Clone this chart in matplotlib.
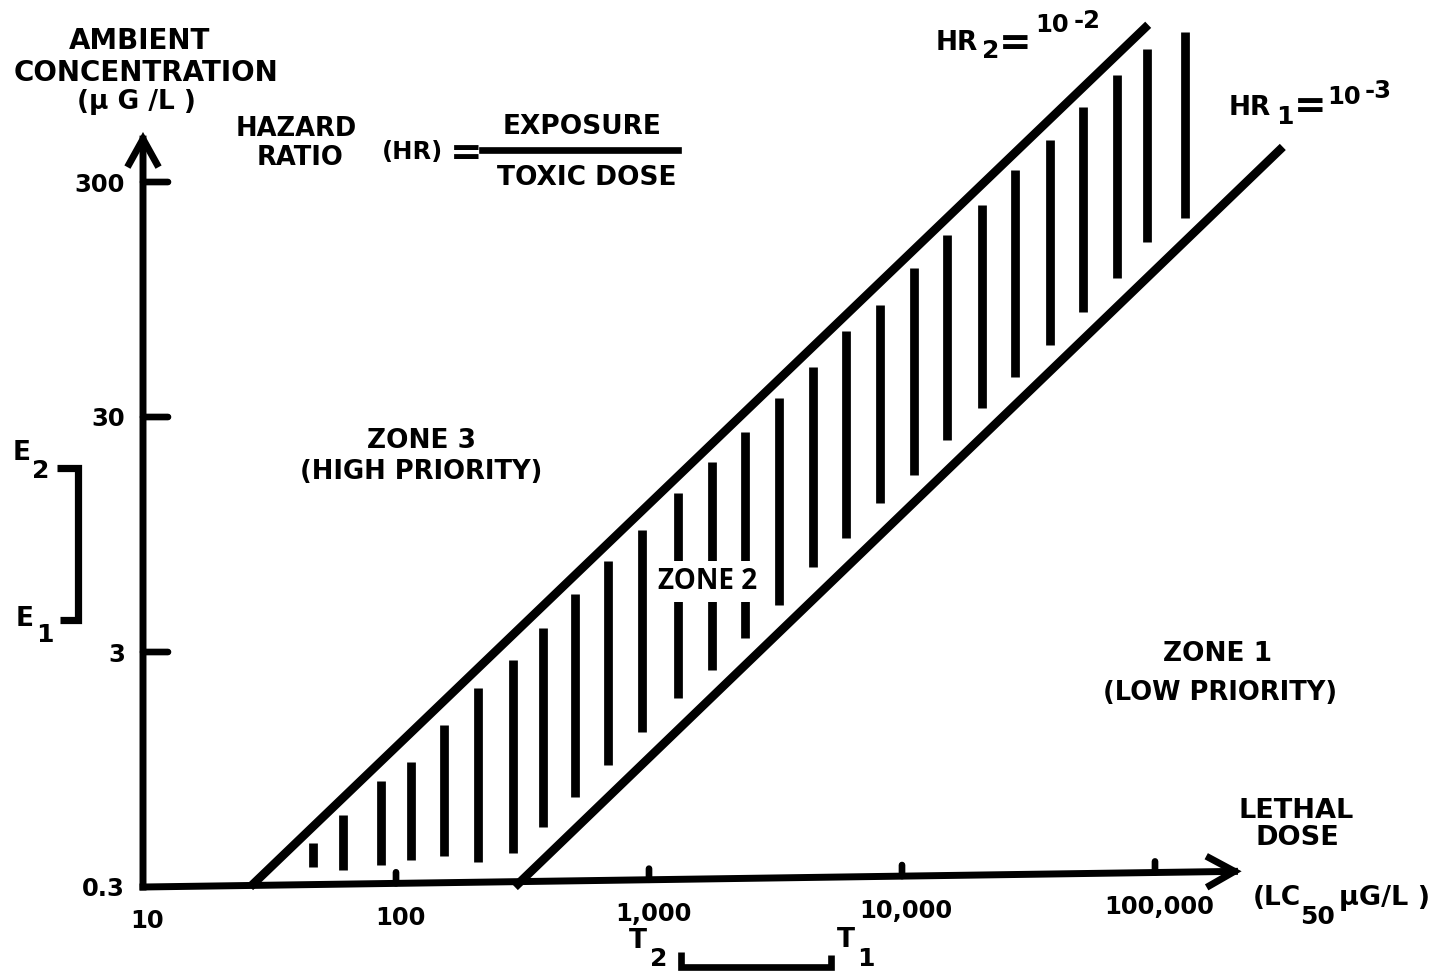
import numpy as np
import matplotlib
matplotlib.use("Agg")
import matplotlib.pyplot as plt
from matplotlib.lines import Line2D

W, H, DPI = 1445, 975, 100

# ---------------- data ----------------
# axes: lethal dose LC50 (ug/L) vs ambient concentration (ug/L), both log
x_origin, y_origin = 10, 0.3
x_origin_label = "10"
y_origin_label = "0.3"
x_ticks = [100, 1000, 10000, 100000]
x_tick_labels = ["100", "1,000", "10,000", "100,000"]
y_ticks = [3, 30, 300]
y_tick_labels = ["3", "30", "300"]
x_axis_tip = (2.2e5, 0.35)
y_axis_tip = 490

# hazard-ratio boundary lines
hr2_lc50 = [26.5, 94000]
hr2_conc = [0.3, 1400]
hr1_lc50 = [295, 320000]
hr1_conc = [0.3, 423]

# hatching strokes filling zone 2
hatch_lc50 = [47, 62, 87, 115, 155, 210, 290, 380, 510, 690, 940, 1300, 1770,
              2400, 3270, 4450, 6000, 8200, 11200, 15000, 20700, 28000, 38500,
              52000, 71000, 93000, 131000]
hatch_top = [0.46, 0.61, 0.85, 1.02, 1.47, 2.11, 2.77, 3.80, 5.3, 7.3, 9.9, 14.3,
             19.3, 25.9, 36.1, 49, 70, 90, 129, 178, 239, 337, 453, 625, 855,
             1100, 1300]
hatch_bottom = [0.365, 0.354, 0.372, 0.391, 0.406, 0.383, 0.419, 0.54, 0.725,
                0.99, 1.37, 1.91, 2.51, 3.44, 4.75, 6.9, 9.2, 12.9, 17.0, 23.9,
                32.8, 44.4, 60.7, 84, 117, 167, 211]

# exposure range (E1, E2) and toxicity range (T2, T1)
exposure_band = [4.1, 18.2]
toxicity_band = [1340, 5240]

# ---------------- figure ----------------
plt.rcParams['font.family'] = ['DejaVu Sans']
fig = plt.figure(figsize=(W / DPI, H / DPI), dpi=DPI)
ax = fig.add_axes([0, 0, 1, 1])
ax.set_xscale('log')
ax.set_yscale('log')
ax.set_xlim(10 ** (1 - 143 / 253), 10 ** (1 + (W - 143) / 253))
ax.set_ylim(10 ** (np.log10(0.3) - (H - 887) / 235), 10 ** (np.log10(0.3) + 887 / 235))
ax.axis('off')

K = 'black'


def x_axis_level(x):
    """Height of the (slightly rising) horizontal axis at a given LC50."""
    t = (np.log10(x) - np.log10(x_origin)) / (np.log10(x_axis_tip[0]) - np.log10(x_origin))
    return 10 ** (np.log10(y_origin) + t * (np.log10(x_axis_tip[1]) - np.log10(y_origin)))


def label(xp, yp, s, size, ha='center', family=None, **kw):
    kw.setdefault('fontweight', 'bold')
    if family is not None:
        kw['family'] = family
    return fig.text(xp / W, 1 - yp / H, s, ha=ha, va='center_baseline',
                    fontsize=size, color=K, **kw)


# axes with arrow heads
arrow_kw = dict(arrowstyle='->,head_length=1.8,head_width=1.0', lw=5, color=K,
                shrinkA=0, shrinkB=0, mutation_scale=10,
                capstyle='projecting', joinstyle='miter')
ax.annotate('', xy=(x_origin, y_axis_tip), xytext=(x_origin, y_origin), arrowprops=arrow_kw)
ax.annotate('', xy=x_axis_tip, xytext=(x_origin, y_origin), arrowprops=arrow_kw)

# tick marks
tick_kw = dict(arrowstyle='-', lw=4.8, color=K, shrinkA=0, shrinkB=0)
for v in y_ticks:
    ax.annotate('', xy=(x_origin, v), xytext=(18, 0), textcoords='offset points',
                arrowprops=tick_kw)
for v in x_ticks:
    ax.annotate('', xy=(v, x_axis_level(v)), xytext=(0, 8), textcoords='offset points',
                arrowprops=tick_kw)

# tick labels
for v, s in zip([y_origin] + y_ticks, [y_origin_label] + y_tick_labels):
    ax.annotate(s, xy=(x_origin, v), xytext=(-13, 0), textcoords='offset points',
                ha='right', va='center_baseline', fontsize=17.5, fontweight='bold')
for v, s in zip([x_origin] + x_ticks, [x_origin_label] + x_tick_labels):
    ax.annotate(s, xy=(v, x_axis_level(v)), xytext=(3, -23), textcoords='offset points',
                ha='center', va='center_baseline', fontsize=17.5, fontweight='bold')

# hazard ratio lines
ax.plot(hr2_lc50, hr2_conc, color=K, lw=6.2, solid_capstyle='butt')
ax.plot(hr1_lc50, hr1_conc, color=K, lw=6.2, solid_capstyle='butt')

# zone 2 hatching
ax.vlines(hatch_lc50, hatch_bottom, hatch_top, color=K, lw=6.3)

# exposure bracket on the concentration axis
ax.plot([57 / W, 78 / W, 78 / W, 60 / W],
        [exposure_band[1], exposure_band[1], exposure_band[0], exposure_band[0]],
        transform=ax.get_yaxis_transform(), color=K, lw=5.2,
        solid_joinstyle='miter', solid_capstyle='butt')
# toxicity bracket under the dose axis
ax.plot([toxicity_band[0], toxicity_band[0], toxicity_band[1], toxicity_band[1]],
        [1 - 952 / H, 1 - 967 / H, 1 - 967 / H, 1 - 955 / H],
        transform=ax.get_xaxis_transform(), color=K, lw=4.8,
        solid_joinstyle='miter', solid_capstyle='butt')

# ---------------- text ----------------
label(140, 38, "AMBIENT", 20)
label(146, 70, "CONCENTRATION", 20)
label(136, 99, "(µ G /L )", 19)

label(296, 126, "HAZARD", 18.5)
label(300, 155, "RATIO", 18.5)
label(412, 150, "(HR)", 17.5)
label(466, 150, "=", 28)
fig.add_artist(Line2D([482 / W, 678 / W], [1 - 150 / H, 1 - 150 / H], color=K, lw=4.8))
label(582, 124, "EXPOSURE", 19)
label(587, 175, "TOXIC DOSE", 19)

label(421, 438, "ZONE 3", 19)
label(421, 469, "(HIGH PRIORITY)", 18.5)
label(708, 578, "ZONE 2", 20, family=['Open Sans', 'DejaVu Sans'], fontweight='bold',
      bbox=dict(facecolor='white', edgecolor='none', pad=4))
label(1218, 651, "ZONE 1", 19)
label(1220, 690, "(LOW PRIORITY)", 18.5)

label(1296, 808, "LETHAL", 19.5)
label(1297, 835, "DOSE", 19.5)
label(1253, 895, "(LC", 19, ha='left')
label(1318, 914, "50", 18)
label(1339, 895, "µG/L )", 19.5, ha='left')

# hazard ratio line labels
label(957, 40, "HR", 19)
label(991, 49, "2", 18)
label(1015, 40, "=", 28)
label(1052, 23, "10", 17.5)
label(1087, 18, "-2", 17.5)

label(1250, 105, "HR", 19)
label(1285, 114, "1", 18)
label(1310, 103, "=", 28)
label(1344, 94, "10", 17.5)
label(1378, 88, "-3", 17.5)

# bracket labels
label(22, 450, "E", 19)
label(41, 468, "2", 18)
label(25, 616, "E", 19)
label(45, 632, "1", 18)
label(638, 938, "T", 19)
label(659, 957, "2", 18)
label(846, 937, "T", 19)
label(866, 957, "1", 18)

fig.savefig("out.png", dpi=DPI, facecolor='white')
